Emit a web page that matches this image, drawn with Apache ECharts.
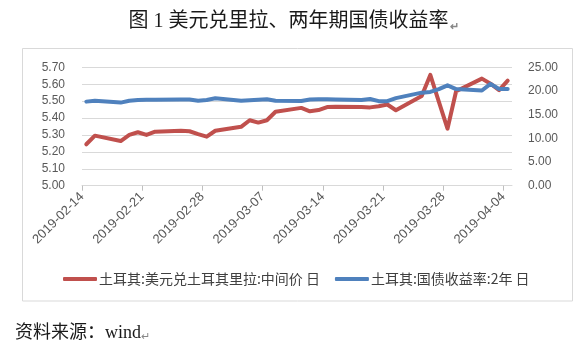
<!DOCTYPE html>
<html>
<head>
<meta charset="utf-8">
<script src="https://cdn.jsdelivr.net/npm/echarts@6/dist/echarts.min.js"></script>
<style>
html,body{margin:0;padding:0;background:#fff;}
#c{width:588px;height:358px;}
</style>
</head>
<body>
<div id="c"></div>
<script>
// ---- data ----
const titleText = '图 1 美元兑里拉、两年期国债收益率';
const sourceText = '资料来源：wind';
const seriesNames = ['土耳其:美元兑土耳其里拉:中间价 日', '土耳其:国债收益率:2年 日'];
const tradeDates = [
  '2019-02-14','2019-02-15',
  '2019-02-18','2019-02-19','2019-02-20','2019-02-21','2019-02-22',
  '2019-02-25','2019-02-26','2019-02-27','2019-02-28','2019-03-01',
  '2019-03-04','2019-03-05','2019-03-06','2019-03-07','2019-03-08',
  '2019-03-11','2019-03-12','2019-03-13','2019-03-14','2019-03-15',
  '2019-03-18','2019-03-19','2019-03-20','2019-03-21','2019-03-22',
  '2019-03-25','2019-03-26','2019-03-27','2019-03-28','2019-03-29',
  '2019-04-01','2019-04-02','2019-04-03','2019-04-04'
];
const usdTry = [
  5.245, 5.296,
  5.264, 5.300, 5.316, 5.300, 5.319,
  5.325, 5.322, 5.305, 5.290, 5.325,
  5.348, 5.387, 5.373, 5.387, 5.437,
  5.460, 5.440, 5.447, 5.465, 5.467,
  5.465, 5.463, 5.470, 5.480, 5.446,
  5.530, 5.655, 5.495, 5.337, 5.558,
  5.633, 5.603, 5.565, 5.621
];
const bond2y = [
  17.75, 17.95,
  17.55, 17.95, 18.10, 18.15, 18.15,
  18.20, 18.20, 17.95, 18.10, 18.45,
  17.95, 18.05, 18.15, 18.25, 17.95,
  17.90, 18.20, 18.25, 18.25, 18.20,
  18.10, 18.30, 17.85, 17.85, 18.50,
  19.65, 19.80, 20.40, 21.20, 20.40,
  20.10, 21.50, 20.40, 20.40
];
const xTickLabels = ['2019-02-14','2019-02-21','2019-02-28','2019-03-07','2019-03-14','2019-03-21','2019-03-28','2019-04-04'];
const leftTicks = {min: 5.0, max: 5.7, interval: 0.1};
const rightTicks = {min: 0, max: 25, interval: 5};

// ---- helpers ----
const DAY = 86400000;
const t0 = Date.parse(xTickLabels[0]);
const dayIdx = d => Math.round((Date.parse(d) - t0) / DAY);
const tickPos = xTickLabels.map(dayIdx);
const xMax = dayIdx(xTickLabels[xTickLabels.length - 1]) + 1;
const labelByPos = {};
xTickLabels.forEach((l, i) => { labelByPos[tickPos[i]] = l; });

const redData = tradeDates.map((d, i) => [dayIdx(d) + 0.5, usdTry[i]]);
const blueData = tradeDates.map((d, i) => [dayIdx(d) + 0.5, bond2y[i]]);

const chart = echarts.init(document.getElementById('c'), null, {renderer: 'canvas'});
const axisFont = "'Liberation Sans', Arial, sans-serif";
const cjk = "'Noto Sans CJK SC', sans-serif";
const serifCjk = "'Liberation Serif', 'Noto Sans CJK SC', serif";

chart.setOption({
  animation: false,
  backgroundColor: '#fff',
  title: {
    text: '{m|' + titleText + '}{p|↵}',
    left: 'center',
    top: 7,
    textStyle: {
      rich: {
        m: {fontSize: 20, fontFamily: serifCjk, color: '#1a1a1a', fontWeight: 'normal'},
        p: {fontSize: 11, fontFamily: axisFont, color: '#888', verticalAlign: 'bottom', padding: [0,0,0,2]}
      }
    }
  },
  graphic: [
    {
      type: 'rect',
      shape: {x: 22.5, y: 48.5, width: 550, height: 252.5},
      style: {fill: 'none', stroke: '#d9d9d9', lineWidth: 1},
      silent: true, z: -1
    },
    {
      type: 'text',
      left: 15, top: 324,
      style: {
        text: '{m|' + sourceText + '}{p|↵}',
        rich: {
          m: {fontSize: 18, fontFamily: serifCjk, fill: '#1a1a1a'},
          p: {fontSize: 11, fontFamily: axisFont, fill: '#888', verticalAlign: 'bottom'}
        }
      }
    }
  ],
  legend: {
    left: 63,
    top: 272,
    padding: 0,
    itemWidth: 34,
    itemHeight: 4,
    itemGap: 15,
    icon: 'roundRect',
    textStyle: {fontSize: 14, fontFamily: cjk, color: '#404040', padding: [0,0,0,-3]},
    data: seriesNames
  },
  grid: {left: 82, top: 67.3, width: 430, height: 118.4, containLabel: false},
  xAxis: {
    type: 'value',
    min: 0,
    max: xMax,
    axisLine: {show: true, lineStyle: {color: '#d9d9d9', width: 1}},
    axisTick: {show: true, length: 5, lineStyle: {color: '#bfbfbf'}, customValues: tickPos},
    axisLabel: {
      customValues: tickPos,
      rotate: 45,
      margin: 9,
      fontSize: 13,
      fontFamily: axisFont,
      color: '#595959',
      formatter: v => labelByPos[Math.round(v)] || ''
    },
    splitLine: {show: false}
  },
  yAxis: [
    {
      type: 'value',
      min: leftTicks.min, max: leftTicks.max, interval: leftTicks.interval,
      axisLine: {show: false},
      axisTick: {show: false},
      axisLabel: {margin: 17, fontSize: 12, fontFamily: axisFont, color: '#595959', formatter: v => v.toFixed(2)},
      splitLine: {show: true, lineStyle: {color: '#d9d9d9', width: 1}}
    },
    {
      type: 'value',
      min: rightTicks.min, max: rightTicks.max, interval: rightTicks.interval,
      position: 'right',
      axisLine: {show: false},
      axisTick: {show: false},
      axisLabel: {margin: 16, fontSize: 12, fontFamily: axisFont, color: '#595959', formatter: v => v.toFixed(2)},
      splitLine: {show: false}
    }
  ],
  series: [
    {
      name: seriesNames[0],
      type: 'line',
      yAxisIndex: 0,
      data: redData,
      symbol: 'none',
      color: '#C0504D',
      lineStyle: {width: 4, color: '#C0504D', cap: 'round', join: 'round'}
    },
    {
      name: seriesNames[1],
      type: 'line',
      yAxisIndex: 1,
      data: blueData,
      symbol: 'none',
      color: '#4F81BD',
      lineStyle: {width: 4, color: '#4F81BD', cap: 'round', join: 'round'}
    }
  ]
});
</script>
</body>
</html>
